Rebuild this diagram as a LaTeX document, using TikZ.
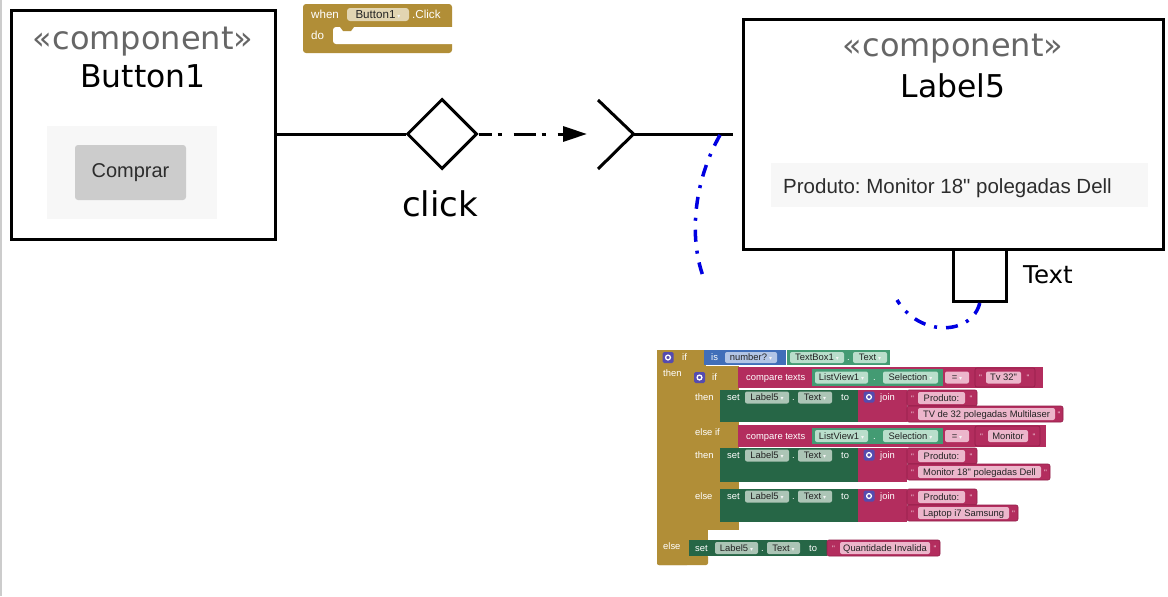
\documentclass[tikz,border=0pt]{standalone}
\usepackage{fontspec}
\setmainfont{DejaVu Sans}
\newfontfamily\ui{Liberation Sans}
\newfontfamily\dv{DejaVu Sans}
\usetikzlibrary{shapes.geometric,arrows.meta}
\definecolor{gold}{RGB}{177,142,55}
\definecolor{mag}{RGB}{179,45,94}
\definecolor{magdark}{RGB}{145,28,72}
\definecolor{teal}{RGB}{67,155,115}
\definecolor{tealchip}{RGB}{185,222,203}
\definecolor{sgreen}{RGB}{38,102,70}
\definecolor{sgchip}{RGB}{172,197,182}
\definecolor{ablue}{RGB}{64,110,185}
\definecolor{bluechip}{RGB}{178,197,230}
\definecolor{pinkchip}{RGB}{236,182,203}
\definecolor{goldchip}{RGB}{226,213,178}
\definecolor{gearc}{RGB}{85,75,175}
\definecolor{ublue}{RGB}{0,0,225}
\definecolor{stgray}{RGB}{102,102,102}
\definecolor{chipdark}{RGB}{35,35,35}
\definecolor{ddgray}{RGB}{245,245,245}
\definecolor{qtc}{RGB}{240,200,215}
\definecolor{panelgray}{RGB}{247,247,247}
\definecolor{btngray}{RGB}{204,204,204}
\definecolor{uitext}{RGB}{45,45,45}
\frenchspacing
\newcount\bk
\newcommand\nb{\global\advance\bk by 1 }
\newcommand\dd{\hspace{2pt}{\dv\fontsize{6}{6}\selectfont\color{ddgray}▾}}
\newcommand\blk[5]{\fill[#5] ({#1},{#2}) rectangle ({#3},{#4});}
\newcommand\bchip[6]{\fill[#5,rounded corners=2pt] ({#1},{#2}) rectangle ({#3},{#4});
  \nb\node[ctext] (c\the\bk) at ({((#1)+(#3))/2},{((#2)+(#4))/2+3.4}) {#6};}
\newcommand\wl[3]{\nb\node[wlab] (w\the\bk) at ({#1},{(#2)+3.4}) {#3};}
\newcommand\gear[2]{\fill[gearc,rounded corners=1.5pt] ({#1-5.5},{#2-5.5}) rectangle ({#1+5.5},{#2+5.5});
  \draw[white,line width=1.3pt] (#1,#2) circle[radius=2.4];}
\newcommand\lit[7]{\filldraw[fill=mag,draw=magdark,line width=0.6pt,rounded corners=2pt] ({#1},{#2}) rectangle ({#3},{#4});
  \nb\node[qt] (q\the\bk) at ({((#1)+(#5))/2},{((#2)+(#4))/2+3.4}) {"};
  \bchip{#5}{((#2)+(#4))/2-6}{#6}{((#2)+(#4))/2+6}{pinkchip}{#7}
  \nb\node[qt] (q\the\bk) at ({((#6)+(#3))/2},{((#2)+(#4))/2+3.4}) {"};}
\tikzset{
  comp/.style={draw, line width=3pt, inner sep=0pt, fill=white},
  stereo/.style={text=stgray, font=\fontsize{32}{36}\selectfont, inner sep=0pt, anchor=base},
  cname/.style={text=black, font=\fontsize{31.4}{36}\selectfont, inner sep=0pt, anchor=base},
  wlab/.style={text=white, font=\ui\fontsize{9.4}{10}\selectfont, inner sep=0pt, anchor=base west},
  ctext/.style={text=chipdark, font=\ui\fontsize{9.4}{10}\selectfont, inner sep=0pt, anchor=base},
  qt/.style={text=qtc, font=\ui\fontsize{8}{8}\selectfont, inner sep=0pt, anchor=base},
  blueline/.style={draw=ublue, line width=3.5pt, dash pattern=on 12pt off 9pt on 3pt off 9pt},
  uml/.style={line width=3pt},
}
\begin{document}
\begin{tikzpicture}[x=1pt,y=-1pt]
\useasboundingbox (0,0) rectangle (1168,597);
\fill[white] (0,0) rectangle (1168,597);
\draw[black!20, line width=1.5pt] (0.75,0) -- (0.75,596);

% ---- Button1 component
\node[comp, minimum width=263.5pt, minimum height=229pt] (btn) at (143.25,124.5) {};
\node[stereo] (bst) at (143,49) {«component»};
\node[cname] (bnm) at (143,87) {Button1};
\node[fill=panelgray, minimum width=170pt, minimum height=93pt, inner sep=0pt] (bpanel) at (132,172.5) {};
\node[fill=btngray, rounded corners=3pt, minimum width=111pt, minimum height=55pt, inner sep=0pt] (bbtn) at (130.5,172.5) {};
\node[text=uitext, font=\ui\fontsize{20}{22}\selectfont, inner sep=0pt, anchor=base] (btxt) at (130.5,177.5) {Comprar};

% ---- Label5 component
\node[comp, minimum width=420.5pt, minimum height=230pt] (lbl) at (953.25,134.5) {};
\node[stereo] (lst) at (953,56) {«component»};
\node[cname] (lnm) at (953,97) {Label5};
\node[fill=panelgray, minimum width=377pt, minimum height=44pt, inner sep=0pt] (lpanel) at (959.5,185) {};
\node[text=uitext, font=\ui\fontsize{20.5}{22}\selectfont, inner sep=0pt, anchor=base west] (ltxt) at (783,193) {Produto: Monitor 18" polegadas Dell};
\node[comp, minimum width=52.5pt, minimum height=52pt] (port) at (979.75,275.5) {};
\node[font=\fontsize{24.5}{28}\selectfont, inner sep=0pt, anchor=base west] (portlbl) at (1023,283) {Text};

% ---- event diamond and connectors
\node[diamond, draw, uml, minimum width=70pt, minimum height=70pt, inner sep=0pt] (dia) at (442,134) {};
\node[font=\fontsize{34}{38}\selectfont, inner sep=0pt, anchor=base] (clk) at (440,216) {click};
\draw[uml] (btn.east |- dia.west) -- (dia.west);
\coordinate (atip) at (587,134);
\draw[uml, dash pattern=on 22pt off 6pt on 4pt off 12pt, dash phase=9pt, -{Triangle[length=24pt,width=15pt]}] (dia.east) -- (atip);
\coordinate (rcv) at (633.5,134);
\coordinate (rtop) at (598,100);
\coordinate (rbot) at (598,169);
\coordinate (lend) at (733,134);
\draw[uml] (rtop) -- (rcv) -- (rbot);
\draw[uml] (rcv) -- (lend);

% ---- blue dash-dot link (visible parts)
\coordinate (bl1) at (720,135);
\coordinate (bl2) at (703,276);
\coordinate (br2) at (897,300);
\draw[blueline] (bl1) .. controls (692,185) and (690,240) .. (bl2);
\draw[blueline] (port.south) .. controls (972,335) and (920,338) .. (br2);

% ---- when Button1.Click block
\fill[gold, rounded corners=3pt] (303,4) rectangle (452,53);
\fill[white, rounded corners=3pt] (333,27) rectangle (462,44);
\fill[gold] (340,27) -- (343,31) -- (351,31) -- (354,27) -- cycle;
\fill[white] (452.5,20) rectangle (470,60);
\nb\node[wlab, font=\ui\fontsize{11.6}{12}\selectfont] (wh) at (311,18.5) {when};
\fill[goldchip, rounded corners=3pt] (347,8) rectangle (409,21);
\nb\node[ctext, font=\ui\fontsize{11.6}{12}\selectfont] (whb) at (378,18.5) {Button1\dd};
\nb\node[wlab, font=\ui\fontsize{11.6}{12}\selectfont] (whc) at (412,18.5) {.Click};
\nb\node[wlab, font=\ui\fontsize{11.6}{12}\selectfont] (whd) at (311,39.5) {do};

% ---- big if block
\fill[gold, rounded corners=2pt] (657,350) rectangle (689,565);
\blk{657}{350}{706}{367}{gold}
\blk{670}{530}{708}{541}{gold}
\fill[gold, rounded corners=2pt] (657,555) rectangle (708,565);
\gear{668}{357.5}
\wl{682}{357.5}{if}
\wl{663}{373}{then}
\wl{663}{546.5}{else}
\blk{704}{350}{786}{365}{ablue}
\wl{711}{357.5}{is}
\bchip{725}{352}{777}{363}{bluechip}{number?\dd}
\blk{787}{350}{890}{365}{teal}
\bchip{790}{352}{844}{363}{tealchip}{TextBox1\dd}
\wl{847}{357.5}{.}
\bchip{853}{352}{887}{363}{tealchip}{Text\dd}

% inner if
\blk{689}{366}{739}{390}{gold}
\blk{689}{366}{720}{530}{gold}
\blk{689}{420}{739}{449}{gold}
\blk{689}{481}{739}{490}{gold}
\blk{689}{521}{739}{530}{gold}
\gear{699.5}{377.5}
\wl{712}{377.5}{if}
\wl{695}{397}{then}
\wl{695}{432}{else if}
\wl{695}{455}{then}
\wl{695}{496}{else}

% compare texts 1
\blk{738}{367}{1043}{388}{mag}
\wl{746}{377.5}{compare texts}
\blk{812}{369}{943}{386}{teal}
\bchip{815}{371.5}{868}{383.5}{tealchip}{ListView1\dd}
\wl{873}{377.5}{.}
\bchip{883}{371.5}{938}{383.5}{tealchip}{Selection\dd}
\bchip{945}{371.5}{969}{383.5}{pinkchip}{=\dd}
\lit{975}{368}{1035}{387}{986}{1021}{Tv 32"}

% set 1
\blk{720}{390}{858}{422}{sgreen}
\wl{727}{397}{set}
\bchip{745}{391.5}{789}{403.5}{sgchip}{Label5\dd}
\wl{792}{397}{.}
\bchip{798}{391.5}{832}{403.5}{sgchip}{Text\dd}
\wl{841}{397}{to}
\blk{858}{390}{907}{422}{mag}
\gear{869}{397}
\wl{880}{397}{join}
\lit{907}{390}{977}{406}{918}{965}{Produto: }
\lit{907}{406}{1063}{422}{918}{1055}{TV de 32 polegadas Multilaser}

% compare texts 2
\blk{738}{425}{1046}{447}{mag}
\wl{746}{436}{compare texts}
\blk{812}{428}{943}{444}{teal}
\bchip{815}{430}{868}{442}{tealchip}{ListView1\dd}
\wl{873}{436}{.}
\bchip{883}{430}{938}{442}{tealchip}{Selection\dd}
\bchip{945}{430}{969}{442}{pinkchip}{=\dd}
\lit{975}{426}{1040}{446}{988}{1028}{Monitor}

% set 2
\blk{720}{448}{858}{482}{sgreen}
\wl{727}{455}{set}
\bchip{745}{449.5}{789}{461.5}{sgchip}{Label5\dd}
\wl{792}{455}{.}
\bchip{798}{449.5}{832}{461.5}{sgchip}{Text\dd}
\wl{841}{455}{to}
\blk{858}{448}{907}{482}{mag}
\gear{869}{455}
\wl{880}{455}{join}
\lit{907}{448}{977}{464}{918}{965}{Produto: }
\lit{907}{464}{1050}{480}{918}{1041}{Monitor 18" polegadas Dell}

% set 3
\blk{720}{489}{858}{522}{sgreen}
\wl{727}{496}{set}
\bchip{745}{490.5}{789}{502.5}{sgchip}{Label5\dd}
\wl{792}{496}{.}
\bchip{798}{490.5}{832}{502.5}{sgchip}{Text\dd}
\wl{841}{496}{to}
\blk{858}{489}{907}{522}{mag}
\gear{869}{496}
\wl{880}{496}{join}
\lit{907}{489}{977}{505}{918}{965}{Produto: }
\lit{907}{505}{1018}{521}{918}{1009}{Laptop i7 Samsung}

% outer else set
\blk{689}{540}{827}{556}{sgreen}
\wl{695}{548}{set}
\bchip{715}{542}{758}{554}{sgchip}{Label5\dd}
\wl{761}{548}{.}
\bchip{767}{542}{800}{554}{sgchip}{Text\dd}
\wl{809}{548}{to}
\lit{827}{540}{940}{556}{840}{930}{Quantidade Invalida}
\end{tikzpicture}
\end{document}
